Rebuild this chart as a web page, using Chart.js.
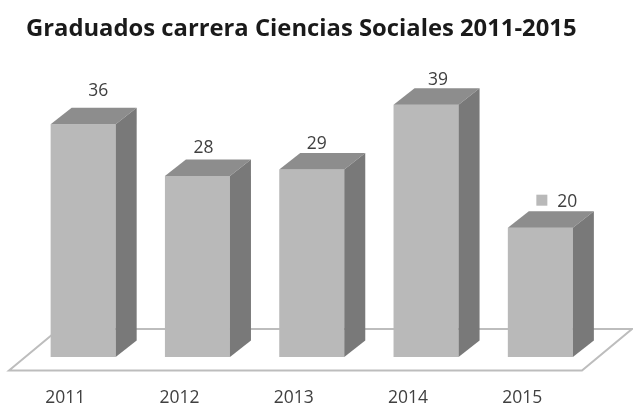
<!DOCTYPE html>
<html>
<head>
<meta charset="utf-8">
<title>Graduados carrera Ciencias Sociales 2011-2015</title>
<script src="https://cdn.jsdelivr.net/npm/chart.js@4"></script>
<style>
  html, body { margin: 0; padding: 0; background: #fff; }
  #wrap { width: 633px; height: 406px; }
  #bar-chart { filter: blur(0.5px); }
</style>
</head>
<body>
<div id="wrap"><canvas id="bar-chart"></canvas></div>
<script>
var years = ["2011", "2012", "2013", "2014", "2015"];
var graduados = [36, 28, 29, 39, 20];
// nudges of the value labels from the top of each bar
var labelDx = [15, 6, 5, 12, 27];
var labelDy = [33, 28, 25, 25, 26];

var fontName = "'Open Sans', sans-serif";
var depth = 21, rise = 16.5;

// bars are flat in chart.js, so the floor and the 3d faces are added here
var fake3d = {
  id: "fake3d",
  beforeDatasetsDraw: function (chart) {
    var ctx = chart.ctx;
    var y0 = chart.scales.y.getPixelForValue(0);
    ctx.save();
    ctx.strokeStyle = "#bdbdbd";
    ctx.lineWidth = 2;
    ctx.beginPath();
    ctx.moveTo(9, y0 + 13.5);
    ctx.lineTo(59, y0 - 28);
    ctx.lineTo(632, y0 - 28);
    ctx.lineTo(582, y0 + 13.5);
    ctx.closePath();
    ctx.stroke();
    ctx.restore();
  },
  afterDatasetsDraw: function (chart) {
    var ctx = chart.ctx;
    ctx.save();
    chart.getDatasetMeta(0).data.forEach(function (bar, i) {
      var half = bar.width / 2;
      var l = bar.x - half, r = bar.x + half, t = bar.y, b = bar.base;
      ctx.fillStyle = "#8d8d8d";
      ctx.beginPath();
      ctx.moveTo(l, t);
      ctx.lineTo(l + depth, t - rise);
      ctx.lineTo(r + depth, t - rise);
      ctx.lineTo(r, t);
      ctx.closePath();
      ctx.fill();
      ctx.fillStyle = "#797979";
      ctx.beginPath();
      ctx.moveTo(r, t);
      ctx.lineTo(r + depth, t - rise);
      ctx.lineTo(r + depth, b - rise);
      ctx.lineTo(r, b);
      ctx.closePath();
      ctx.fill();

      ctx.fillStyle = "#404040";
      ctx.font = "17.5px " + fontName;
      ctx.textAlign = "center";
      ctx.textBaseline = "middle";
      ctx.fillText(graduados[i], bar.x + labelDx[i], t - labelDy[i]);
      // the last label carries the little series key
      if (i === graduados.length - 1) {
        ctx.fillStyle = "#b9b9b9";
        ctx.fillRect(bar.x - 4, t - 33, 11, 11);
      }
    });
    ctx.restore();
  }
};

new Chart(document.getElementById("bar-chart"), {
  type: "bar",
  data: {
    labels: years,
    datasets: [{
      data: graduados,
      backgroundColor: "#b9b9b9",
      categoryPercentage: 1,
      barPercentage: 0.569
    }]
  },
  options: {
    responsive: true,
    maintainAspectRatio: false,
    animation: false,
    layout: { padding: { left: 26, right: 35.5 } },
    plugins: {
      legend: { display: false },
      tooltip: { enabled: false },
      title: {
        display: true,
        text: "Graduados carrera Ciencias Sociales 2011-2015",
        align: "start",
        color: "#1a1a1a",
        font: { family: fontName, size: 23.8, weight: "bold" },
        padding: { top: 14.5, bottom: 23 }
      }
    },
    scales: {
      x: {
        grid: { display: false },
        border: { display: false },
        afterFit: function (scale) { scale.height = 49; },
        ticks: {
          color: "#404040",
          labelOffset: -18,
          padding: 23,
          font: { family: fontName, size: 17.5 }
        }
      },
      y: { display: false, min: 0, max: 45 }
    }
  },
  plugins: [fake3d]
});
</script>
</body>
</html>
